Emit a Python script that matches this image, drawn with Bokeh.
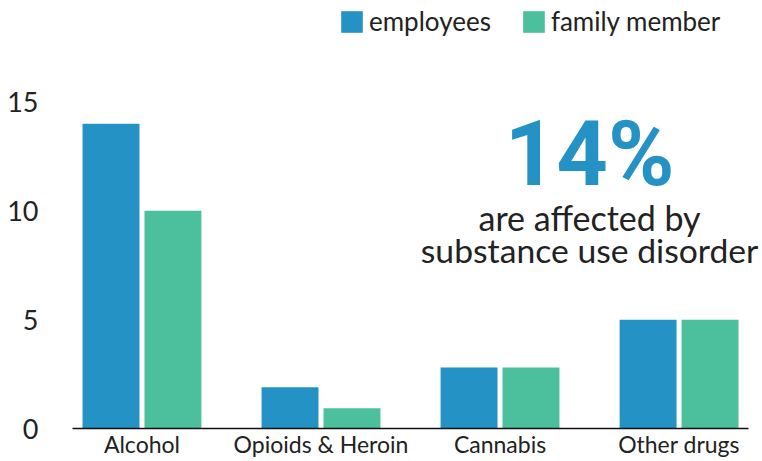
from bokeh.plotting import figure
from bokeh.models import ColumnDataSource, Range1d, FixedTicker, Label, Legend, LegendItem
from bokeh.embed import file_html
from bokeh.resources import INLINE

categories = ["Alcohol", "Opioids & Heroin", "Cannabis", "Other drugs"]
employees = [14, 1.9, 2.8, 5]
family_member = [10, 0.93, 2.8, 5]
y_ticks = [0, 5, 10, 15]
headline = "14%"
sub_lines = ["are affected by", "substance use disorder"]

BLUE = "#2492c4"
GREEN = "#4cbf9c"
FONT = "Lato"

idx = list(range(len(categories)))
off = 0.173
bw = 0.318

src = ColumnDataSource(data=dict(
    x_emp=[i - off for i in idx],
    x_fam=[i + off for i in idx],
    employees=employees,
    family=family_member,
))

p = figure(width=762, height=461, output_backend="svg", toolbar_location=None,
           x_range=Range1d(-0.388, 3.466), y_range=Range1d(0, 19.66),
           min_border_left=72, min_border_right=0, min_border_top=0, min_border_bottom=33)
p.outline_line_color = None
p.grid.visible = False
p.background_fill_color = "white"
p.border_fill_color = "white"

r1 = p.vbar(x="x_emp", top="employees", width=bw, source=src, color=BLUE, line_color=None)
r2 = p.vbar(x="x_fam", top="family", width=bw, source=src, color=GREEN, line_color=None)

xa = p.xaxis[0]
xa.ticker = FixedTicker(ticks=idx)
xa.bounds = (-0.388, 3.388)
xa.major_label_overrides = {i: c for i, c in zip(idx, categories)}
xa.major_tick_line_color = None
xa.major_tick_out = 0
xa.major_tick_in = 0
xa.minor_tick_line_color = None
xa.minor_tick_out = 0
xa.axis_line_color = "#111111"
xa.axis_line_width = 1.6
xa.major_label_text_font = FONT
xa.major_label_text_font_size = "23px"
xa.major_label_text_color = "#222222"
xa.major_label_standoff = 1

ya = p.yaxis[0]
ya.ticker = FixedTicker(ticks=y_ticks)
ya.axis_line_color = None
ya.major_tick_line_color = None
ya.major_tick_out = 0
ya.major_tick_in = 0
ya.minor_tick_line_color = None
ya.minor_tick_out = 0
ya.major_label_text_font = FONT
ya.major_label_text_font_size = "27px"
ya.major_label_text_color = "#222222"
ya.major_label_standoff = 34

legend = Legend(items=[LegendItem(label="employees", renderers=[r1]),
                       LegendItem(label="family member", renderers=[r2])],
                orientation="horizontal", location=(266, 391))
legend.border_line_color = None
legend.background_fill_alpha = 0
legend.padding = 0
legend.margin = 0
legend.spacing = 29
legend.glyph_width = 27
legend.glyph_height = 27
legend.label_standoff = 4
legend.label_text_font = FONT
legend.label_text_font_size = "26px"
legend.label_text_color = "#222222"
legend.label_height = 27
p.add_layout(legend)

p.add_layout(Label(x=2.5, y=12.59, text=headline, text_align="center", text_baseline="alphabetic",
                   text_font="Roboto", text_font_style="bold", text_font_size="90px",
                   text_color=BLUE))
p.add_layout(Label(x=2.5, y=9.67, text=sub_lines[0], text_align="center", text_baseline="alphabetic",
                   text_font=FONT, text_font_size="34px", text_color="#222222"))
p.add_layout(Label(x=2.5, y=8.21, text=sub_lines[1], text_align="center", text_baseline="alphabetic",
                   text_font=FONT, text_font_size="33.7px", text_color="#222222"))

open("out.html", "w").write(file_html(p, INLINE))
